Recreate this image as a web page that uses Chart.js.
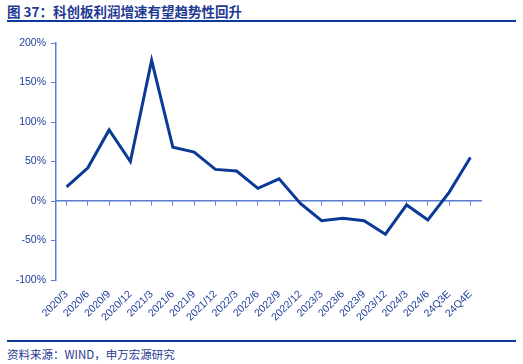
<!DOCTYPE html>
<html>
<head>
<meta charset="utf-8">
<script src="https://cdn.jsdelivr.net/npm/chart.js@4/dist/chart.umd.min.js"></script>
<style>
  html, body { margin: 0; padding: 0; background: #fff; }
  body { width: 523px; height: 364px; position: relative; overflow: hidden; font-family: "Liberation Sans", Arial, sans-serif; }
  .title { position: absolute; left: 7px; top: 3px; font-family: "Noto Sans CJK SC", sans-serif; font-weight: bold; font-size: 13.5px; line-height: 16px; color: #1f3a93; }
  .topline { position: absolute; left: 7px; top: 20px; width: 509px; height: 2px; background: #0a3a9c; }
  .wrap { position: absolute; left: 0; top: 28px; width: 523px; height: 302px; }
  .botline { position: absolute; left: 7px; top: 340px; width: 509px; height: 1.5px; background: #0a3a9c; }
  .source { position: absolute; left: 7px; top: 346px; font-family: "Noto Sans CJK SC", sans-serif; font-size: 11.5px; line-height: 16px; color: #1f3a93; }
</style>
</head>
<body>
<div class="title">图 37：科创板利润增速有望趋势性回升</div>
<div class="topline"></div>
<div class="wrap"><canvas id="chart"></canvas></div>
<div class="botline"></div>
<div class="source">资料来源：WIND，申万宏源研究</div>
<script>
// 科创板利润增速 (%)
const quarters = ['2020/3', '2020/6', '2020/9', '2020/12', '2021/3', '2021/6', '2021/9', '2021/12',
  '2022/3', '2022/6', '2022/9', '2022/12', '2023/3', '2023/6', '2023/9', '2023/12',
  '2024/3', '2024/6', '24Q3E', '24Q4E'];
const profitGrowth = [18, 42, 90, 50, 178, 68, 62, 40, 38, 16, 28, -3, -25, -22, -25, -42, -5, -24, 11, 55];
const yTicks = [-100, -50, 0, 50, 100, 150, 200];

const axisColor = '#5a7fd2';
const textColor = '#23409a';
const tickFont = { family: '"Liberation Sans", Arial, sans-serif', size: 10.5 };

new Chart(document.getElementById('chart'), {
  type: 'line',
  data: {
    labels: quarters,
    datasets: [{
      data: profitGrowth,
      borderColor: '#0b3a96',
      borderWidth: 3,
      pointRadius: 0,
      tension: 0,
      fill: false
    }]
  },
  options: {
    responsive: true,
    maintainAspectRatio: false,
    animation: false,
    layout: { padding: { top: 15, right: 42, bottom: 0, left: 0 } },
    plugins: { legend: { display: false }, tooltip: { enabled: false } },
    scales: {
      x: {
        type: 'category',
        position: 'bottom',
        offset: true,
        grid: { display: false, drawTicks: false },
        border: { display: false },
        ticks: {
          color: textColor,
          font: tickFont,
          minRotation: 45,
          maxRotation: 45,
          autoSkip: false,
          padding: 8
        },
        afterFit: (scale) => { scale.height = 50; }
      },
      x2: {
        type: 'category',
        position: { y: 0 },
        offset: true,
        grid: { drawOnChartArea: false, color: axisColor, tickLength: 4 },
        border: { color: axisColor, width: 1.5 },
        ticks: { display: false }
      },
      y: {
        min: -100,
        max: 200,
        afterBuildTicks: (scale) => { scale.ticks = yTicks.map(v => ({ value: v })); },
        grid: { drawOnChartArea: false, color: axisColor, tickLength: 5 },
        border: { color: axisColor, width: 1.5 },
        ticks: {
          color: textColor,
          font: tickFont,
          padding: 5,
          callback: (v) => v + '%'
        },
        afterFit: (scale) => { scale.width = 56; }
      }
    }
  }
});
</script>
</body>
</html>
